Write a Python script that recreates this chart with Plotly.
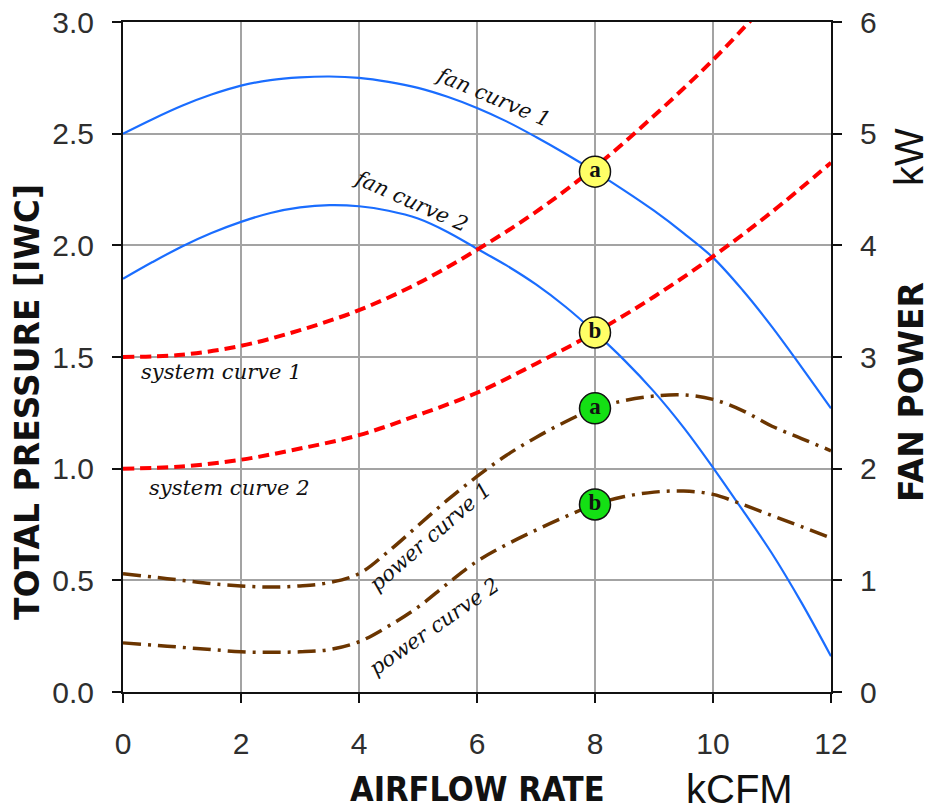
import plotly.graph_objects as go

# Airflow grid (kCFM) for the fan and power curves
airflow = [0, 0.5, 1, 1.5, 2, 2.5, 3, 3.5, 4, 4.5, 5, 5.5, 6, 6.5, 7, 7.5, 8,
           8.5, 9, 9.5, 10, 10.5, 11, 11.5, 12]

# Fan curves, total pressure [IWC]
fan_curve_1 = [2.50, 2.565, 2.625, 2.675, 2.715, 2.74, 2.752, 2.756, 2.75, 2.732, 2.705,
               2.665, 2.615, 2.555, 2.485, 2.41, 2.33, 2.245, 2.155, 2.055, 1.945, 1.80,
               1.635, 1.455, 1.27]
fan_curve_2 = [1.85, 1.925, 1.995, 2.055, 2.105, 2.145, 2.17, 2.18, 2.175, 2.155, 2.12,
               2.06, 1.985, 1.91, 1.825, 1.725, 1.61, 1.485, 1.345, 1.185, 1.005, 0.815,
               0.62, 0.40, 0.16]

# System curves, total pressure [IWC]
system_x_1 = [0, 1, 2, 3, 4, 5, 6, 7, 8, 9, 10, 11]
system_curve_1 = [1.50, 1.51, 1.55, 1.62, 1.71, 1.83, 1.98, 2.15, 2.35, 2.58, 2.83, 3.11]
system_x_2 = [0, 1, 2, 3, 4, 5, 6, 7, 8, 9, 10, 11, 12]
system_curve_2 = [1.00, 1.01, 1.04, 1.09, 1.15, 1.24, 1.34, 1.47, 1.61, 1.77, 1.95, 2.15, 2.37]

# Fan power curves [kW]
power_curve_1 = [1.06, 1.03, 1.00, 0.97, 0.95, 0.94, 0.95, 0.98, 1.06, 1.26, 1.49,
                 1.72, 1.93, 2.12, 2.28, 2.42, 2.54, 2.61, 2.65, 2.66, 2.62, 2.52,
                 2.38, 2.27, 2.16]
power_curve_2 = [0.44, 0.42, 0.40, 0.38, 0.36, 0.356, 0.36, 0.38, 0.45, 0.59, 0.76,
                 0.97, 1.17, 1.32, 1.45, 1.57, 1.68, 1.75, 1.79, 1.80, 1.77, 1.68,
                 1.58, 1.48, 1.38]

# Operating points
op_labels = ["a", "b"]
op_x = [8, 8]
op_pressure = [2.33, 1.61]
op_power = [2.54, 1.68]

x_ticks = [0, 2, 4, 6, 8, 10, 12]
y_ticks = [0.0, 0.5, 1.0, 1.5, 2.0, 2.5, 3.0]
y2_ticks = [0, 1, 2, 3, 4, 5, 6]

BLUE = "#1a6dff"
RED = "#ff0000"
BROWN = "#6b3500"
GRID = "#a3a3a3"
TICK_FONT = dict(family="Liberation Sans, Arial, sans-serif", size=30, color="#2e2e2e")
NOTE_FONT = dict(family="DejaVu Serif, serif", size=21, color="#111111")
POINT_FONT = dict(family="Liberation Serif, Times New Roman, serif",
                  size=23, color="#111111", weight="bold")

fig = go.Figure()

fig.add_trace(go.Scatter(x=airflow, y=fan_curve_1, mode="lines", line_shape="spline",
                         line=dict(color=BLUE, width=2.2), showlegend=False))
fig.add_trace(go.Scatter(x=airflow, y=fan_curve_2, mode="lines", line_shape="spline",
                         line=dict(color=BLUE, width=2.2), showlegend=False))
fig.add_trace(go.Scatter(x=system_x_1, y=system_curve_1, mode="lines", line_shape="spline",
                         line=dict(color=RED, width=4, dash="11px,6px"), showlegend=False))
fig.add_trace(go.Scatter(x=system_x_2, y=system_curve_2, mode="lines", line_shape="spline",
                         line=dict(color=RED, width=4, dash="11px,6px"), showlegend=False))
fig.add_trace(go.Scatter(x=op_x, y=op_pressure, mode="markers+text", text=op_labels,
                         textposition="middle center", textfont=POINT_FONT,
                         marker=dict(size=31, color="#ffff66",
                                     line=dict(color="#111111", width=1.5)),
                         showlegend=False))

fig.add_trace(go.Scatter(x=airflow, y=power_curve_1, mode="lines", line_shape="spline",
                         yaxis="y2", line=dict(color=BROWN, width=3.5, dash="18px,7px,3px,7px"),
                         showlegend=False))
fig.add_trace(go.Scatter(x=airflow, y=power_curve_2, mode="lines", line_shape="spline",
                         yaxis="y2", line=dict(color=BROWN, width=3.5, dash="18px,7px,3px,7px"),
                         showlegend=False))
fig.add_trace(go.Scatter(x=op_x, y=op_power, mode="markers+text", text=op_labels,
                         textposition="middle center", yaxis="y2", textfont=POINT_FONT,
                         marker=dict(size=31, color="#14e014",
                                     line=dict(color="#111111", width=1.5)),
                         showlegend=False))

# Pixel-based placement helpers for free text
L, R, T, B = 123, 100, 22, 120
W, H = 931, 812
PW, PH = W - L - R, H - T - B


def px(xp):
    return (xp - L) / PW


def py(yp):
    return (H - B - yp) / PH


notes = [
    ("fan curve 1", 493, 97, 23),
    ("fan curve 2", 411, 201, 24),
    ("system curve 1", 221, 372, 0),
    ("system curve 2", 229, 488, 0),
    ("power curve 1", 430, 537, -41),
    ("power curve 2", 434, 627, -35),
]
for txt, xp, yp, ang in notes:
    fig.add_annotation(text="<i>" + txt + "</i>", xref="paper", yref="paper",
                       x=px(xp), y=py(yp), xanchor="center", yanchor="middle",
                       textangle=ang, showarrow=False, font=NOTE_FONT)

title_bold = dict(family="DejaVu Sans, Liberation Sans, sans-serif", size=33,
                  color="#111111", weight="bold")
fig.add_annotation(text="TOTAL PRESSURE [IWC]", xref="paper", yref="paper",
                   x=px(27), y=py(402), textangle=-90, showarrow=False,
                   xanchor="center", yanchor="middle", font=title_bold)
fig.add_annotation(text="FAN POWER", xref="paper", yref="paper",
                   x=px(911), y=py(392), textangle=-90, showarrow=False,
                   xanchor="center", yanchor="middle", font=title_bold)
fig.add_annotation(text="kW", xref="paper", yref="paper",
                   x=px(909), y=py(157), textangle=-90, showarrow=False,
                   xanchor="center", yanchor="middle",
                   font=dict(family="Liberation Sans, Arial, sans-serif", size=40, color="#111111"))
fig.add_annotation(text="AIRFLOW RATE", xref="paper", yref="paper",
                   x=px(478), y=py(789), showarrow=False,
                   xanchor="center", yanchor="middle",
                   font=dict(family="Liberation Sans Narrow, DejaVu Sans Condensed, Liberation Sans, sans-serif",
                             size=34, color="#111111", weight="bold"))
fig.add_annotation(text="kCFM", xref="paper", yref="paper",
                   x=px(739), y=py(789), showarrow=False,
                   xanchor="center", yanchor="middle",
                   font=dict(family="Liberation Sans, Arial, sans-serif", size=40, color="#111111"))

axis_common = dict(showline=True, linecolor="#111111", linewidth=2,
                   ticks="outside", ticklen=9, tickwidth=2, tickcolor="#111111",
                   tickfont=TICK_FONT, zeroline=False, automargin=False)

fig.update_layout(
    width=W, height=H,
    margin=dict(l=L, r=R, t=T, b=B, autoexpand=False),
    paper_bgcolor="white", plot_bgcolor="white",
    xaxis=dict(range=[0, 12], tickvals=x_ticks, ticktext=[str(v) for v in x_ticks],
               showgrid=True, gridcolor=GRID, gridwidth=2, mirror=True,
               ticklabelstandoff=15, **axis_common),
    yaxis=dict(range=[0, 3], tickvals=y_ticks, ticktext=[f"{v:.1f}" for v in y_ticks],
               showgrid=True, gridcolor=GRID, gridwidth=2, mirror=True,
               ticklabelstandoff=12, **axis_common),
    yaxis2=dict(range=[0, 6], tickvals=y2_ticks, ticktext=[str(v) for v in y2_ticks],
                overlaying="y", side="right", showgrid=False,
                ticklabelstandoff=12, **axis_common),
)

fig.write_html("out.html")
